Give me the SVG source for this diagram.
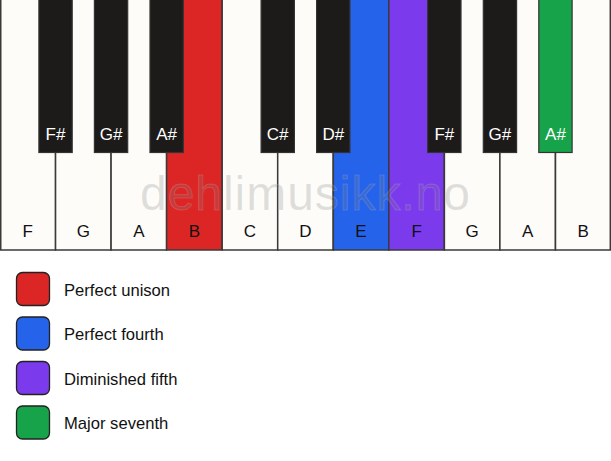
<svg xmlns="http://www.w3.org/2000/svg" width="611" height="461" viewBox="0 0 611 461">
<style>
.w{fill:#fdfcf9;stroke:#3a3a3a;stroke-width:1.5}
.b{fill:#1c1b19;stroke:#333;stroke-width:1.2}
.wl{font-family:"Liberation Sans",Arial,sans-serif;font-size:17px;fill:#111;text-anchor:middle}
.bl{font-family:"Liberation Sans",Arial,sans-serif;font-size:17px;fill:#fff;text-anchor:middle}
.lg{font-family:"Liberation Sans",Arial,sans-serif;font-size:16.6px;fill:#111}
.sw{stroke:#222;stroke-width:1.3}
.red{fill:#dc2626}.blue{fill:#2563eb}.purple{fill:#7c3aed}.green{fill:#16a34a}
</style>
<rect width="611" height="461" fill="#ffffff"/>
<g id="white-keys">
<g id="wk-F1"><rect class="w" x="0.75" y="-1" width="54.8" height="251"/><text class="wl" x="27.8" y="236.5">F</text></g>
<g id="wk-G1"><rect class="w" x="55.55" y="-1" width="55.5" height="251"/><text class="wl" x="83.3" y="236.5">G</text></g>
<g id="wk-A1"><rect class="w" x="111.1" y="-1" width="55.5" height="251"/><text class="wl" x="138.9" y="236.5">A</text></g>
<g id="wk-B1"><rect class="w red" x="166.6" y="-1" width="55.5" height="251"/><text class="wl" x="194.4" y="236.5">B</text></g>
<g id="wk-C"><rect class="w" x="222.2" y="-1" width="55.5" height="251"/><text class="wl" x="250" y="236.5">C</text></g>
<g id="wk-D"><rect class="w" x="277.7" y="-1" width="55.5" height="251"/><text class="wl" x="305.5" y="236.5">D</text></g>
<g id="wk-E"><rect class="w blue" x="333.3" y="-1" width="55.5" height="251"/><text class="wl" x="361" y="236.5">E</text></g>
<g id="wk-F2"><rect class="w purple" x="388.8" y="-1" width="55.5" height="251"/><text class="wl" x="416.6" y="236.5">F</text></g>
<g id="wk-G2"><rect class="w" x="444.4" y="-1" width="55.5" height="251"/><text class="wl" x="472.1" y="236.5">G</text></g>
<g id="wk-A2"><rect class="w" x="499.9" y="-1" width="55.5" height="251"/><text class="wl" x="527.7" y="236.5">A</text></g>
<g id="wk-B2"><rect class="w" x="555.5" y="-1" width="54.8" height="251"/><text class="wl" x="583.2" y="236.5">B</text></g>
</g>
<g id="black-keys">
<g id="bk-Fs1"><rect class="b" x="38.9" y="-1" width="33.3" height="153.5"/><text class="bl" x="55.5" y="140">F#</text></g>
<g id="bk-Gs1"><rect class="b" x="94.4" y="-1" width="33.3" height="153.5"/><text class="bl" x="111.1" y="140">G#</text></g>
<g id="bk-As1"><rect class="b" x="150" y="-1" width="33.3" height="153.5"/><text class="bl" x="166.6" y="140">A#</text></g>
<g id="bk-Cs"><rect class="b" x="261.1" y="-1" width="33.3" height="153.5"/><text class="bl" x="277.7" y="140">C#</text></g>
<g id="bk-Ds"><rect class="b" x="316.6" y="-1" width="33.3" height="153.5"/><text class="bl" x="333.3" y="140">D#</text></g>
<g id="bk-Fs2"><rect class="b" x="427.7" y="-1" width="33.3" height="153.5"/><text class="bl" x="444.4" y="140">F#</text></g>
<g id="bk-Gs2"><rect class="b" x="483.3" y="-1" width="33.3" height="153.5"/><text class="bl" x="499.9" y="140">G#</text></g>
<g id="bk-As2"><rect class="b green" x="538.8" y="-1" width="33.3" height="153.5"/><text class="bl" x="555.5" y="140">A#</text></g>
</g>
<text id="watermark" x="305" y="209.5" font-family="'Liberation Sans',Arial,sans-serif" font-size="48" fill="#808080" fill-opacity="0.25" stroke="#ffffff" stroke-opacity="0.15" stroke-width="1" text-anchor="middle" textLength="330" lengthAdjust="spacing">dehlimusikk.no</text>
<g id="legend">
<g id="lg-unison"><rect class="sw red" x="16.5" y="272.5" width="33" height="33" rx="6"/><text class="lg" x="64" y="295.7">Perfect unison</text></g>
<g id="lg-fourth"><rect class="sw blue" x="16.5" y="317" width="33" height="33" rx="6"/><text class="lg" x="64" y="340.2">Perfect fourth</text></g>
<g id="lg-fifth"><rect class="sw purple" x="16.5" y="361.5" width="33" height="33" rx="6"/><text class="lg" x="64" y="384.7">Diminished fifth</text></g>
<g id="lg-seventh"><rect class="sw green" x="16.5" y="406" width="33" height="33" rx="6"/><text class="lg" x="64" y="429.2">Major seventh</text></g>
</g>
</svg>
